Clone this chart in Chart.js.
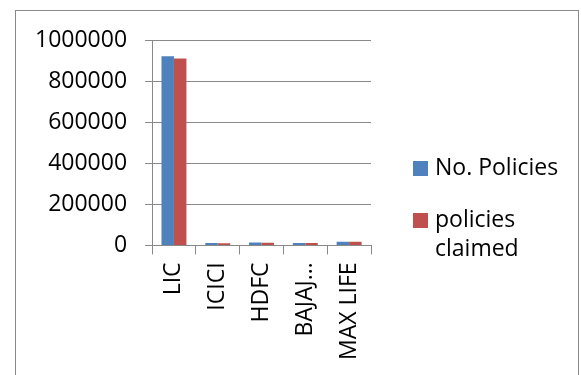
<!DOCTYPE html>
<html>
<head>
<meta charset="utf-8">
<script src="https://cdn.jsdelivr.net/npm/chart.js@4"></script>
<style>
  body { margin: 0; background: #fff; }
  #frame { position: absolute; left: 15px; top: 10px; width: 562px; height: 400px; border: 1px solid #898989; }
  #wrap { position: absolute; left: 0; top: 0; width: 581px; height: 375px; }
</style>
</head>
<body>
<div id="frame"></div>
<div id="wrap"><canvas id="myChart" width="581" height="375"></canvas></div>
<script>
// Données du graphique
const companies = ['LIC', 'ICICI', 'HDFC', 'BAJAJ…', 'MAX LIFE'];
const noPolicies = [921000, 11500, 14000, 12000, 18500];
const policiesClaimed = [910000, 11000, 13500, 11500, 18000];
const yTicks = [0, 200000, 400000, 600000, 800000, 1000000];

const FONT = '"Open Sans", "Liberation Sans", sans-serif';

// Légende dessinée à droite (texte sur plusieurs lignes)
const sideLegend = {
    id: 'sideLegend',
    afterDraw(chart) {
        const ctx = chart.ctx;
        ctx.save();
        ctx.font = '23px ' + FONT;
        ctx.fillStyle = '#000';
        ctx.textBaseline = 'middle';
        const items = [
            { lines: ['No. Policies'], y: 168 },
            { lines: ['policies', 'claimed'], y: 220 }
        ];
        items.forEach(function(item, i) {
            const ds = chart.data.datasets[i];
            ctx.fillStyle = ds.backgroundColor;
            ctx.fillRect(413, item.y - 7, 15, 15);
            ctx.fillStyle = '#000';
            item.lines.forEach(function(line, j) {
                ctx.fillText(line, 435, item.y + j * 29);
            });
        });
        ctx.restore();
    }
};

const myChartCtx = document.getElementById('myChart').getContext('2d');
const chart = new Chart(myChartCtx, {
    type: 'bar',
    data: {
        labels: companies,
        datasets: [{
            label: 'No. Policies',
            data: noPolicies,
            backgroundColor: '#4F81BD'
        }, {
            label: 'policies claimed',
            data: policiesClaimed,
            backgroundColor: '#C0504D'
        }]
    },
    options: {
        responsive: false,
        animation: false,
        layout: {
            padding: { left: 17, right: 210, top: 40, bottom: 7 }
        },
        datasets: {
            bar: { categoryPercentage: 0.57, barPercentage: 1.0 }
        },
        scales: {
            x: {
                grid: { drawOnChartArea: false, drawTicks: true, tickLength: 9, color: '#898989', offset: true },
                border: { color: '#898989' },
                ticks: {
                    color: '#000',
                    font: { family: FONT, size: 23 },
                    maxRotation: 90,
                    minRotation: 90,
                    padding: 8,
                    autoSkip: false
                }
            },
            y: {
                min: 0,
                max: 1000000,
                afterBuildTicks: function(axis) {
                    axis.ticks = yTicks.map(v => ({ value: v }));
                },
                grid: { color: '#898989', tickLength: 7 },
                border: { color: '#898989' },
                ticks: {
                    color: '#000',
                    font: { family: FONT, size: 23 },
                    padding: 18,
                    callback: function(value) {
                        return String(value);
                    }
                }
            }
        },
        plugins: {
            legend: { display: false },
            tooltip: { enabled: false }
        }
    },
    plugins: [sideLegend]
});
</script>
</body>
</html>
